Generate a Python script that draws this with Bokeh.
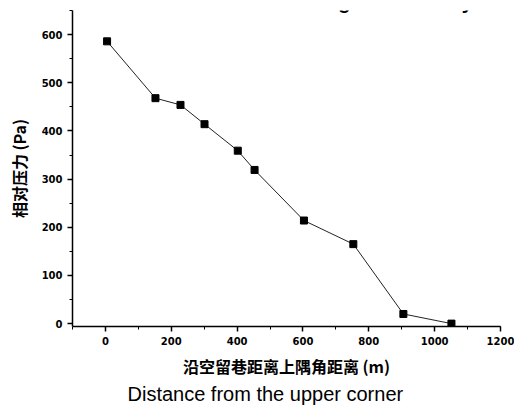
from bokeh.plotting import figure
from bokeh.models import Range1d, Label, FixedTicker, Title
from bokeh.embed import file_html
from bokeh.resources import INLINE

distance = [5, 152, 228, 301, 402, 453, 603, 753, 905, 1051]
pressure = [586, 468, 454, 414, 359, 319, 214, 165, 20, 0]
x_ticks = [0, 200, 400, 600, 800, 1000, 1200]
y_ticks = [0, 100, 200, 300, 400, 500, 600]
x_label = "沿空留巷距离上隅角距离 (m)"
y_label = "相对压力 (Pa)"
caption = "Distance from the upper corner"
title_text = "Pressure distribution along the roadway"

p = figure(width=514, height=406, output_backend="svg", toolbar_location=None,
           x_range=Range1d(-100, 1200), y_range=Range1d(-6, 650),
           min_border_left=72, min_border_right=14, min_border_top=10, min_border_bottom=80)
p.outline_line_color = None
p.xgrid.visible = False
p.ygrid.visible = False
p.background_fill_color = "white"
p.border_fill_color = "white"

p.line(distance, pressure, line_color="#222222", line_width=1)
p.scatter(distance, pressure, marker="square", size=7, fill_color="black", line_color="black")

for ax, ticks, minor in ((p.xaxis[0], x_ticks, list(range(-100, 1201, 100))),
                         (p.yaxis[0], y_ticks, list(range(0, 651, 50)))):
    ax.ticker = FixedTicker(ticks=ticks, minor_ticks=minor)
    ax.major_tick_in = 0
    ax.major_tick_out = 5
    ax.minor_tick_in = 0
    ax.minor_tick_out = 3
    ax.axis_line_color = "black"
    ax.axis_line_width = 1.5
    ax.major_tick_line_width = 1.5
    ax.minor_tick_line_width = 1
    ax.major_label_text_font = "DejaVu Sans"
    ax.major_label_text_font_style = "bold"
    ax.major_label_text_font_size = "10px"
    ax.major_label_text_color = "black"
    ax.axis_label_text_font = "Noto Sans CJK SC"
    ax.axis_label_text_font_style = "bold"
    ax.axis_label_text_font_size = "16px"
    ax.axis_label_text_color = "black"

p.xaxis[0].axis_label = x_label
p.xaxis[0].axis_label_standoff = 6
p.yaxis[0].axis_label = y_label
p.yaxis[0].axis_label_standoff = 8

p.add_layout(Title(text=caption, align="left", offset=127 - 72, text_font="Liberation Sans",
                   text_font_size="20px", text_font_style="normal", text_color="black",
                   standoff=0), "below")
p.add_layout(Label(x=90 - 72, y=325, x_units="screen", y_units="screen", text=title_text,
                   text_font="Liberation Sans", text_font_style="bold", text_font_size="20px",
                   text_align="left", text_baseline="alphabetic", text_color="black"))

open("out.html", "w").write(file_html(p, INLINE))
